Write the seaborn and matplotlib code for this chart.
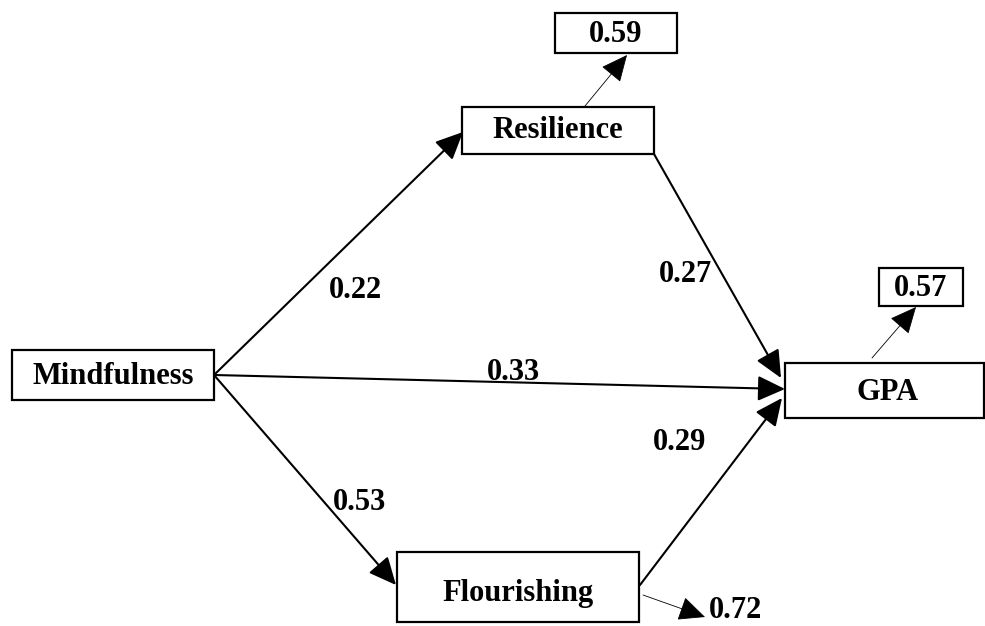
import matplotlib
matplotlib.use("Agg")
import matplotlib.pyplot as plt
from matplotlib.patches import Rectangle
import seaborn as sns

# Dados do modelo de caminhos
variaveis = ["Mindfulness", "Resilience", "Flourishing", "GPA"]
origens = ["Mindfulness", "Mindfulness", "Mindfulness", "Resilience", "Flourishing"]
destinos = ["Resilience", "GPA", "Flourishing", "GPA", "GPA"]
coeficientes = [0.22, 0.33, 0.53, 0.27, 0.29]
r2_variaveis = ["Resilience", "GPA", "Flourishing"]
r2_valores = [0.59, 0.57, 0.72]

sns.set_style("white")
plt.rcParams["font.family"] = ["Liberation Serif", "DejaVu Serif"]
plt.rcParams["text.color"] = "black"

# Layout em pixels (x0, y0, x1, y1)
caixas = {
    "Mindfulness": (12, 350, 214, 400),
    "Resilience": (462, 107, 654, 154),
    "Flourishing": (397, 552, 639, 622),
    "GPA": (785, 363, 984, 418),
}
texto_pos = {
    "Mindfulness": (113, 377),
    "Resilience": (558, 130),
    "Flourishing": (518, 594),
    "GPA": (888, 392),
}
# pontos de saída/chegada das setas
setas = [
    ((214, 375), (463, 132)),
    ((214, 375), (785, 389)),
    ((214, 375), (396, 585)),
    ((654, 154), (781, 378)),
    ((640, 585), (782, 398)),
]
rotulo_pos = [(355, 291), (513, 373), (360, 503), (685, 275), (680, 442)]

caixas_r2 = {"Resilience": (555, 13, 677, 53), "GPA": (879, 268, 963, 306)}
setas_r2 = [((585, 106), (627, 55)), ((872, 358), (916, 307)), ((643, 595), (705, 617))]
r2_texto_pos = [(616, 34), (921, 289), (735, 611)]

fig = plt.figure(figsize=(9.85, 6.26), dpi=100)
ax = fig.add_axes([0, 0, 1, 1])
ax.set_xlim(0, 985)
ax.set_ylim(626, 0)
ax.axis("off")

fs = 22
estilo = "-|>,head_length=0.65,head_width=0.3"

for nome in variaveis:
    x0, y0, x1, y1 = caixas[nome]
    ax.add_patch(Rectangle((x0, y0), x1 - x0, y1 - y0, fill=False,
                           edgecolor="black", lw=1.6, clip_on=False))
    ax.text(*texto_pos[nome], nome, ha="center", va="center",
            fontsize=fs, fontweight="bold", color="black")

for (ini, fim), coef, pos in zip(setas, coeficientes, rotulo_pos):
    ax.annotate("", xy=fim, xytext=ini,
                arrowprops=dict(arrowstyle=estilo, color="black", lw=1.5,
                                mutation_scale=26, shrinkA=0, shrinkB=0))
    ax.text(*pos, f"{coef:.2f}", ha="center", va="center",
            fontsize=fs, fontweight="bold", color="black")

for i, (nome, valor) in enumerate(zip(r2_variaveis, r2_valores)):
    ini, fim = setas_r2[i]
    ax.annotate("", xy=fim, xytext=ini,
                arrowprops=dict(arrowstyle=estilo, color="black", lw=0.6,
                                mutation_scale=26, shrinkA=0, shrinkB=0))
    if nome in caixas_r2:
        x0, y0, x1, y1 = caixas_r2[nome]
        ax.add_patch(Rectangle((x0, y0), x1 - x0, y1 - y0, fill=False,
                               edgecolor="black", lw=1.6))
    ax.text(*r2_texto_pos[i], f"{valor:.2f}", ha="center", va="center",
            fontsize=fs, fontweight="bold", color="black")

plt.savefig("out.png", dpi=100)
